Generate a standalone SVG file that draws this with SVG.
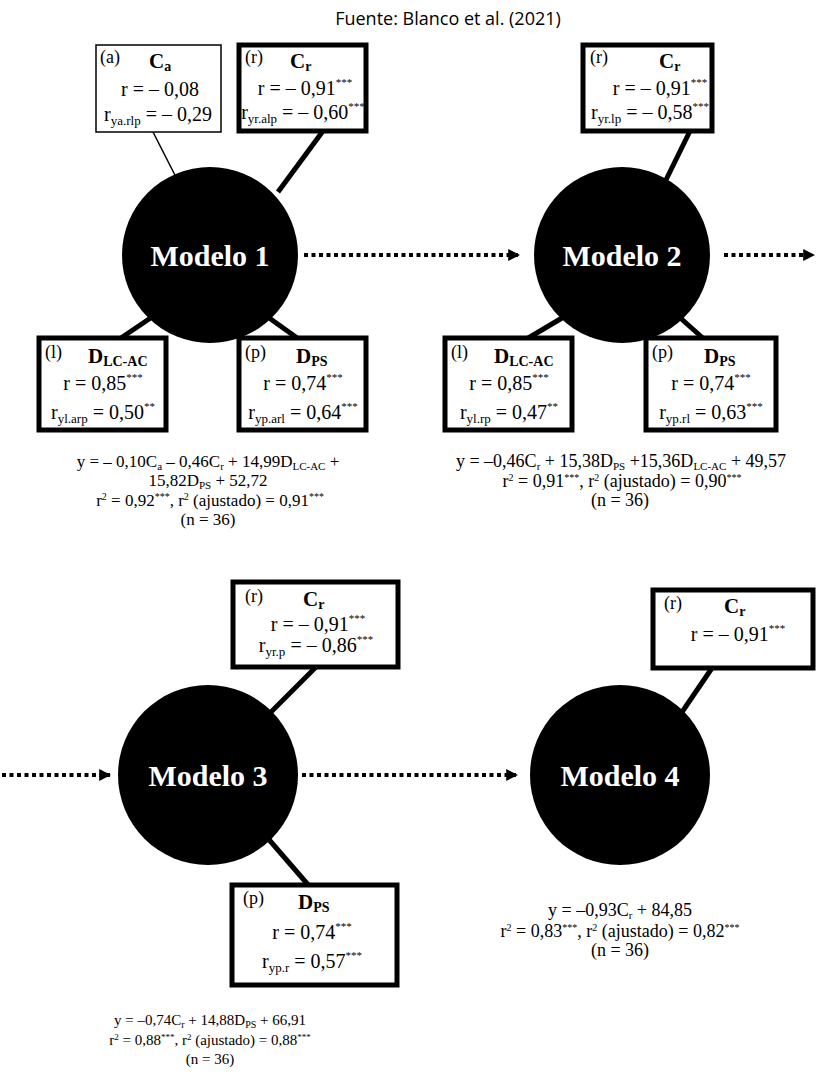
<svg xmlns="http://www.w3.org/2000/svg" width="816" height="1076" viewBox="0 0 816 1076">
<style>
.t{font-family:"Liberation Serif","Times New Roman",serif;fill:#000}
.big{font-size:20px}
.lab{font-size:18px}
.hd{font-size:21px;font-weight:bold}
.e1{font-size:17px}
.e2{font-size:18px}
.e3{font-size:15px}
.mod{font-family:"Liberation Serif","Times New Roman",serif;font-size:30px;font-weight:bold;fill:#fff}
.box{fill:#fff;stroke:#000;stroke-width:5}
.thinbox{fill:#fff;stroke:#000;stroke-width:1.5}
.con{stroke:#000;stroke-width:5;fill:none}
.thin{stroke:#000;stroke-width:1.5;fill:none}
.dot{stroke:#000;stroke-width:4;stroke-dasharray:4 3.5;fill:none}
</style>
<defs>
<marker id="ah" viewBox="0 0 10 10" refX="9" refY="5" markerWidth="3" markerHeight="3" orient="auto" markerUnits="strokeWidth">
<path d="M0,0 L10,5 L0,10 z" fill="#000"/>
</marker>
</defs>
<rect width="816" height="1076" fill="#fff"/>
<text x="448" y="25" text-anchor="middle" font-family="'Open Sans','Liberation Sans',sans-serif" font-size="18" fill="#000">Fuente: Blanco et al. (2021)</text>

<g id="connectors">
<line class="thin" x1="153" y1="132" x2="180" y2="185"/>
<line class="con" x1="323" y1="131" x2="278" y2="192"/>
<line class="con" x1="155" y1="315" x2="118" y2="340"/>
<line class="con" x1="265" y1="315" x2="300" y2="340"/>
<line class="con" x1="690" y1="131" x2="662" y2="188"/>
<line class="con" x1="567" y1="315" x2="525" y2="340"/>
<line class="con" x1="677" y1="315" x2="705" y2="340"/>
<line class="con" x1="316" y1="667" x2="268" y2="715"/>
<line class="con" x1="265" y1="835" x2="310" y2="887"/>
<line class="con" x1="712" y1="668" x2="680" y2="715"/>
<line class="dot" x1="304" y1="255" x2="519" y2="255" marker-end="url(#ah)"/>
<line class="dot" x1="724" y1="255" x2="814" y2="255" marker-end="url(#ah)"/>
<line class="dot" x1="2" y1="775" x2="110" y2="775" marker-end="url(#ah)"/>
<line class="dot" x1="302" y1="775" x2="517" y2="775" marker-end="url(#ah)"/>
</g>

<g id="modelo1">
<circle cx="210" cy="255" r="88" fill="#000"/>
<text class="mod" x="210" y="266" text-anchor="middle">Modelo 1</text>
</g>
<g id="modelo2">
<circle cx="622" cy="255" r="88" fill="#000"/>
<text class="mod" x="622" y="266" text-anchor="middle">Modelo 2</text>
</g>
<g id="modelo3">
<circle cx="208" cy="775" r="90" fill="#000"/>
<text class="mod" x="208" y="786" text-anchor="middle">Modelo 3</text>
</g>
<g id="modelo4">
<circle cx="620" cy="775" r="90" fill="#000"/>
<text class="mod" x="620" y="786" text-anchor="middle">Modelo 4</text>
</g>

<g id="m1-ca">
<rect class="thinbox" x="96" y="45" width="125" height="87"/>
<text class="t lab" x="100" y="63">(a)</text>
<text class="t hd" x="149" y="68">C<tspan font-size="14" dy="3">a</tspan></text>
<text class="t big" x="160" y="96" text-anchor="middle">r = – 0,08</text>
<text class="t big" x="158" y="121" text-anchor="middle">r<tspan font-size="13" dy="4">ya.rlp</tspan><tspan dy="-4"> = – 0,29</tspan></text>
</g>
<g id="m1-cr">
<rect class="box" x="239" y="45" width="127" height="86"/>
<text class="t lab" x="245" y="63">(r)</text>
<text class="t hd" x="290" y="68">C<tspan font-size="14" dy="3">r</tspan></text>
<text class="t big" x="305" y="95" text-anchor="middle">r = – 0,91<tspan font-size="11" dy="-9">***</tspan></text>
<text class="t big" x="303" y="119" text-anchor="middle">r<tspan font-size="13" dy="4">yr.alp</tspan><tspan dy="-4"> = – 0,60</tspan><tspan font-size="11" dy="-9">***</tspan></text>
</g>
<g id="m1-dlc">
<rect class="box" x="39" y="338" width="127" height="92"/>
<text class="t lab" x="45" y="358">(l)</text>
<text class="t hd" x="88" y="363">D<tspan font-size="14" dy="3">LC-AC</tspan></text>
<text class="t big" x="103" y="390" text-anchor="middle">r = 0,85<tspan font-size="11" dy="-9">***</tspan></text>
<text class="t big" x="103" y="419" text-anchor="middle">r<tspan font-size="13" dy="4">yl.arp</tspan><tspan dy="-4"> = 0,50</tspan><tspan font-size="11" dy="-9">**</tspan></text>
</g>
<g id="m1-dps">
<rect class="box" x="239" y="338" width="127" height="92"/>
<text class="t lab" x="245" y="358">(p)</text>
<text class="t hd" x="296" y="363">D<tspan font-size="14" dy="3">PS</tspan></text>
<text class="t big" x="303" y="390" text-anchor="middle">r = 0,74<tspan font-size="11" dy="-9">***</tspan></text>
<text class="t big" x="303" y="419" text-anchor="middle">r<tspan font-size="13" dy="4">yp.arl</tspan><tspan dy="-4"> = 0,64</tspan><tspan font-size="11" dy="-9">***</tspan></text>
</g>
<g id="m1-eq">
<text class="t e1" x="208" y="467" text-anchor="middle">y = – 0,10C<tspan font-size="11" dy="3">a</tspan><tspan dy="-3"> – 0,46C</tspan><tspan font-size="11" dy="3">r</tspan><tspan dy="-3"> + 14,99D</tspan><tspan font-size="11" dy="3">LC-AC</tspan><tspan dy="-3"> +</tspan></text>
<text class="t e1" x="208" y="486" text-anchor="middle">15,82D<tspan font-size="11" dy="3">PS</tspan><tspan dy="-3"> + 52,72</tspan></text>
<text class="t e1" x="210" y="506" text-anchor="middle">r<tspan font-size="10" dy="-6">2</tspan><tspan dy="6"> = 0,92</tspan><tspan font-size="10" dy="-6">***</tspan><tspan dy="6">, r</tspan><tspan font-size="10" dy="-6">2</tspan><tspan dy="6"> (ajustado) = 0,91</tspan><tspan font-size="10" dy="-6">***</tspan></text>
<text class="t e1" x="208" y="525" text-anchor="middle">(n = 36)</text>
</g>

<g id="m2-cr">
<rect class="box" x="583" y="45" width="129" height="86"/>
<text class="t lab" x="590" y="63">(r)</text>
<text class="t hd" x="659" y="68">C<tspan font-size="14" dy="3">r</tspan></text>
<text class="t big" x="660" y="95" text-anchor="middle">r = – 0,91<tspan font-size="11" dy="-9">***</tspan></text>
<text class="t big" x="650" y="119" text-anchor="middle">r<tspan font-size="13" dy="4">yr.lp</tspan><tspan dy="-4"> = – 0,58</tspan><tspan font-size="11" dy="-9">***</tspan></text>
</g>
<g id="m2-dlc">
<rect class="box" x="445" y="338" width="127" height="92"/>
<text class="t lab" x="451" y="358">(l)</text>
<text class="t hd" x="494" y="363">D<tspan font-size="14" dy="3">LC-AC</tspan></text>
<text class="t big" x="509" y="390" text-anchor="middle">r = 0,85<tspan font-size="11" dy="-9">***</tspan></text>
<text class="t big" x="509" y="419" text-anchor="middle">r<tspan font-size="13" dy="4">yl.rp</tspan><tspan dy="-4"> = 0,47</tspan><tspan font-size="11" dy="-9">**</tspan></text>
</g>
<g id="m2-dps">
<rect class="box" x="646" y="338" width="130" height="92"/>
<text class="t lab" x="652" y="358">(p)</text>
<text class="t hd" x="704" y="363">D<tspan font-size="14" dy="3">PS</tspan></text>
<text class="t big" x="711" y="390" text-anchor="middle">r = 0,74<tspan font-size="11" dy="-9">***</tspan></text>
<text class="t big" x="711" y="419" text-anchor="middle">r<tspan font-size="13" dy="4">yp.rl</tspan><tspan dy="-4"> = 0,63</tspan><tspan font-size="11" dy="-9">***</tspan></text>
</g>
<g id="m2-eq">
<text class="t e2" x="621" y="467" text-anchor="middle">y = –0,46C<tspan font-size="11" dy="3">r</tspan><tspan dy="-3"> + 15,38D</tspan><tspan font-size="11" dy="3">PS</tspan><tspan dy="-3"> +15,36D</tspan><tspan font-size="11" dy="3">LC-AC</tspan><tspan dy="-3"> + 49,57</tspan></text>
<text class="t e2" x="622" y="487" text-anchor="middle">r<tspan font-size="10" dy="-6">2</tspan><tspan dy="6"> = 0,91</tspan><tspan font-size="10" dy="-6">***</tspan><tspan dy="6">, r</tspan><tspan font-size="10" dy="-6">2</tspan><tspan dy="6"> (ajustado) = 0,90</tspan><tspan font-size="10" dy="-6">***</tspan></text>
<text class="t e2" x="620" y="506" text-anchor="middle">(n = 36)</text>
</g>

<g id="m3-cr">
<rect class="box" x="233" y="582" width="165" height="85"/>
<text class="t lab" x="245" y="602">(r)</text>
<text class="t hd" x="303" y="606">C<tspan font-size="14" dy="3">r</tspan></text>
<text class="t big" x="318" y="631" text-anchor="middle">r = – 0,91<tspan font-size="11" dy="-9">***</tspan></text>
<text class="t big" x="316" y="652" text-anchor="middle">r<tspan font-size="13" dy="4">yr.p</tspan><tspan dy="-4"> = – 0,86</tspan><tspan font-size="11" dy="-9">***</tspan></text>
</g>
<g id="m3-dps">
<rect class="box" x="232" y="885" width="165" height="100"/>
<text class="t lab" x="243" y="904">(p)</text>
<text class="t hd" x="298" y="909">D<tspan font-size="14" dy="3">PS</tspan></text>
<text class="t big" x="312" y="939" text-anchor="middle">r = 0,74<tspan font-size="11" dy="-9">***</tspan></text>
<text class="t big" x="312" y="968" text-anchor="middle">r<tspan font-size="13" dy="4">yp.r</tspan><tspan dy="-4"> = 0,57</tspan><tspan font-size="11" dy="-9">***</tspan></text>
</g>
<g id="m3-eq">
<text class="t e3" x="210" y="1025" text-anchor="middle">y = –0,74C<tspan font-size="10" dy="3">r</tspan><tspan dy="-3"> + 14,88D</tspan><tspan font-size="10" dy="3">PS</tspan><tspan dy="-3"> + 66,91</tspan></text>
<text class="t e3" x="210" y="1045" text-anchor="middle">r<tspan font-size="9" dy="-5">2</tspan><tspan dy="5"> = 0,88</tspan><tspan font-size="9" dy="-5">***</tspan><tspan dy="5">, r</tspan><tspan font-size="9" dy="-5">2</tspan><tspan dy="5"> (ajustado) = 0,88</tspan><tspan font-size="9" dy="-5">***</tspan></text>
<text class="t e3" x="210" y="1064" text-anchor="middle">(n = 36)</text>
</g>

<g id="m4-cr">
<rect class="box" x="653" y="590" width="160" height="78"/>
<text class="t lab" x="664" y="609">(r)</text>
<text class="t hd" x="724" y="613">C<tspan font-size="14" dy="3">r</tspan></text>
<text class="t big" x="738" y="641" text-anchor="middle">r = – 0,91<tspan font-size="11" dy="-9">***</tspan></text>
</g>
<g id="m4-eq">
<text class="t e2" x="620" y="916" text-anchor="middle">y = –0,93C<tspan font-size="11" dy="3">r</tspan><tspan dy="-3"> + 84,85</tspan></text>
<text class="t e2" x="620" y="937" text-anchor="middle">r<tspan font-size="10" dy="-6">2</tspan><tspan dy="6"> = 0,83</tspan><tspan font-size="10" dy="-6">***</tspan><tspan dy="6">, r</tspan><tspan font-size="10" dy="-6">2</tspan><tspan dy="6"> (ajustado) = 0,82</tspan><tspan font-size="10" dy="-6">***</tspan></text>
<text class="t e2" x="620" y="956" text-anchor="middle">(n = 36)</text>
</g>
</svg>
